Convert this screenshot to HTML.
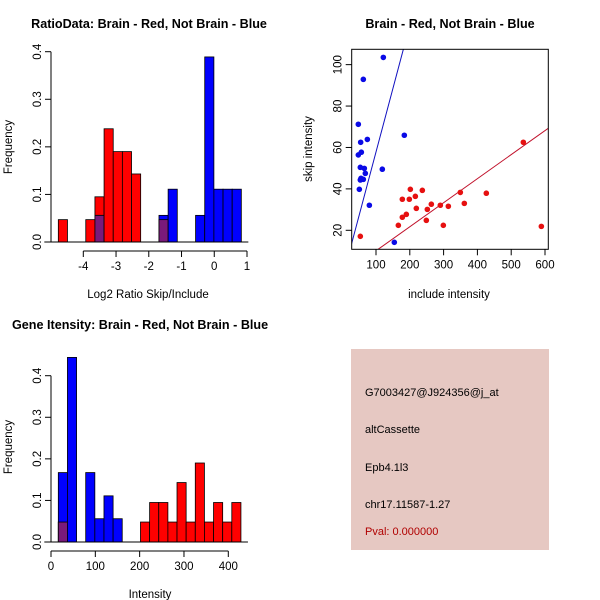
<!DOCTYPE html>
<html><head><meta charset="utf-8"><style>
html,body{margin:0;padding:0;background:#fff}
svg{display:block;font-family:"Liberation Sans",sans-serif}
</style></head><body>
<svg id="s" width="600" height="600" viewBox="0 0 600 600">
<rect width="600" height="600" fill="#fff"/>
<g id="p1"></g>
<g id="p2"></g>
<g id="p3"></g>
<g>
<rect x="351" y="349" width="198" height="201" fill="#e6c8c2"/>
<g font-size="11" fill="#000">
<text x="365" y="396">G7003427@J924356@j_at</text>
<text x="365" y="433">altCassette</text>
<text x="365" y="471">Epb4.1l3</text>
<text x="365" y="508">chr17.11587-1.27</text>
<text x="365" y="535" fill="#b00000">Pval: 0.000000</text>
</g></g>
</svg>
<script>
// ---- Plot 1 data ----
const ratioBinStart = -4.763, ratioBinWidth = 0.2795;
const ratioRed  = [0.047,0,0,0.047,0.095,0.238,0.19,0.19,0.143,0,0,0.047,0,0,0,0,0,0,0,0];
const ratioBlue = [0,0,0,0,0.056,0,0,0,0,0,0,0.056,0.111,0,0,0.056,0.389,0.111,0.111,0.111];
const ratioXTicks = [-4,-3,-2,-1,0,1];
const ratioYTicks = [0,0.1,0.2,0.3,0.4];
// ---- Plot 2 data ----
const blueX = [121.7,62.5,47.7,183.8,74.4,54.6,47.7,56.6,53.6,65.5,68.4,55.6,62.5,53.6,50.7,118.7,80.3,154.2];
const blueY = [103.5,92.9,71.2,65.9,63.9,62.5,56.4,57.7,50.4,49.9,47.5,45.1,44.6,44.3,39.8,49.5,32.1,14.2];
const redX = [53.6,166.1,177.9,177.9,189.7,198.6,201.6,216.4,219.3,237.1,248.9,251.9,263.7,290.3,299.2,314.0,349.5,361.3,426.4,535.9,589.2];
const redY = [17.1,22.4,26.3,35.0,27.7,35.0,39.8,36.4,30.6,39.3,24.8,30.1,32.6,32.1,22.4,31.6,38.3,33.0,37.9,62.5,21.9];
const blueFit = [-3.5,0.613];
const redFit = [-1.5,0.1161];
const scatXTicks = [100,200,300,400,500,600];
const scatYTicks = [20,40,60,80,100];
// ---- Plot 3 data ----
const intBinStart = 16.5, intBinWidth = 20.6;
const intBlue = [0.167,0.444,0,0.167,0.056,0.111,0.056,0,0,0,0,0,0,0,0,0,0,0,0,0];
const intRed  = [0.048,0,0,0,0,0,0,0,0,0.048,0.095,0.095,0.048,0.143,0.048,0.19,0.048,0.095,0.048,0.095];
const intXTicks = [0,100,200,300,400];
const intYTicks = [0,0.1,0.2,0.3,0.4];

const NS="http://www.w3.org/2000/svg";
function mk(parent,tag,attrs){const e=document.createElementNS(NS,tag);for(const k in attrs)e.setAttribute(k,attrs[k]);parent.appendChild(e);return e;}
function txt(parent,x,y,s,attrs){const e=mk(parent,'text',Object.assign({x:x,y:y,'font-size':11.5,'text-anchor':'middle'},attrs||{}));e.textContent=s;return e;}
const PURPLE='#7a1a7a';

function hist(g,xs,ys,start,w,red,blue,xt,yt,xl,yl,xlab,ylab,xfmt,title,titleX,titleY,titleAnchor){
  const X=v=>xs[0]+(v-xl[0])*(xs[1]-xs[0])/(xl[1]-xl[0]);
  const Y=v=>ys[0]+(v-yl[0])*(ys[1]-ys[0])/(yl[1]-yl[0]);
  const t=txt(g,titleX,titleY,title,{'font-size':12.6,'font-weight':'bold','text-anchor':titleAnchor});
  
  for(let i=0;i<red.length;i++){
    const x0=X(start+i*w),x1=X(start+(i+1)*w);
    const r=red[i],b=blue[i];
    if(r>0){const e=mk(g,'rect',{x:x0,y:Y(r),width:x1-x0,height:Y(0)-Y(r),fill:'#ff0000',stroke:'#000','stroke-width':0.8});
      }
    if(b>0){const e=mk(g,'rect',{x:x0,y:Y(b),width:x1-x0,height:Y(0)-Y(b),fill:'#0000ff',stroke:'#000','stroke-width':0.8});
      }
    if(r>0&&b>0){const m=Math.min(r,b);const e=mk(g,'rect',{x:x0,y:Y(m),width:x1-x0,height:Y(0)-Y(m),fill:PURPLE,stroke:'#000','stroke-width':0.8});
      }
  }
  const base=mk(g,'line',{x1:X(start)-14,x2:X(start+red.length*w)+7,y1:Y(0),y2:Y(0),stroke:'#000'});
  
  const yax=mk(g,'g',{});
  
  const yx=ys.axisX;
  mk(yax,'line',{x1:yx,x2:yx,y1:Y(yt[0]),y2:Y(yt[yt.length-1]),stroke:'#000'});
  yt.forEach(v=>{mk(yax,'line',{x1:yx-6,x2:yx,y1:Y(v),y2:Y(v),stroke:'#000'});
    const tt=txt(yax,0,0,v.toFixed(1),{transform:`translate(${yx-10},${Y(v)}) rotate(-90)`});});
  const xax=mk(g,'g',{});
  
  const xy=xs.axisY;
  mk(xax,'line',{x1:X(xt[0]),x2:X(xt[xt.length-1]),y1:xy,y2:xy,stroke:'#000'});
  xt.forEach(v=>{mk(xax,'line',{x1:X(v),x2:X(v),y1:xy,y2:xy+6,stroke:'#000'});
    const tt=txt(xax,X(v),xy+19,xfmt(v));});
  const xl2=txt(g,xs.labX,xs.labY,xlab);
  const yl2=txt(g,0,0,ylab,{transform:`translate(${ys.labX},${ys.labY}) rotate(-90)`});
}
// Plot 1
{const xs=[83.3,247];xs.axisY=251;xs.labX=148;xs.labY=298;
 const ys=[242,51.7];ys.axisX=51;ys.labX=12;ys.labY=147;
 hist(document.getElementById('p1'),xs,ys,ratioBinStart,ratioBinWidth,ratioRed,ratioBlue,ratioXTicks,ratioYTicks,[-4,1],[0,0.4],'Log2 Ratio Skip/Include','Frequency',v=>String(v),'RatioData: Brain - Red, Not Brain - Blue',149,28,'middle');}
// Plot 3
{const xs=[51,228.3];xs.axisY=551;xs.labX=150;xs.labY=598;
 const ys=[542,375.7];ys.axisX=51;ys.labX=12;ys.labY=447;
 hist(document.getElementById('p3'),xs,ys,intBinStart,intBinWidth,intRed,intBlue,intXTicks,intYTicks,[0,400],[0,0.4],'Intensity','Frequency',v=>String(v),'Gene Itensity: Brain - Red, Not Brain - Blue',12,329,'start');}
// Plot 2
{const g=document.getElementById('p2');
 const X=v=>376+(v-100)*0.338, Y=v=>230.3-(v-20)*2.0708;
 const L=351.7,R=548.3,T=49.3,B=249.3;
 const t=txt(g,450,28,'Brain - Red, Not Brain - Blue',{'font-size':12.6,'font-weight':'bold'});
 
 const cp=mk(g,'clipPath',{id:'cp2'});mk(cp,'rect',{x:L,y:T,width:R-L,height:B-T});
 const clip=mk(g,'g',{'clip-path':'url(#cp2)'});
 const xb=700;
 const lb=mk(clip,'line',{x1:X(0),y1:Y(blueFit[0]),x2:X(xb),y2:Y(blueFit[0]+blueFit[1]*xb),stroke:'#1010c0'});
 
 const lr=mk(clip,'line',{x1:X(0),y1:Y(redFit[0]),x2:X(xb),y2:Y(redFit[0]+redFit[1]*xb),stroke:'#c0102a'});
 
 blueX.forEach((v,i)=>{const c=mk(g,'circle',{cx:X(v),cy:Y(blueY[i]),r:2.8,fill:'#0a0ae6'});
   });
 redX.forEach((v,i)=>{const c=mk(g,'circle',{cx:X(v),cy:Y(redY[i]),r:2.8,fill:'#e61010'});
   });
 const box=mk(g,'rect',{x:L,y:T,width:R-L,height:B-T,fill:'none',stroke:'#000'});
 
 const xax=mk(g,'g',{});
 scatXTicks.forEach(v=>{mk(xax,'line',{x1:X(v),x2:X(v),y1:B,y2:B+6,stroke:'#000'});
   const tt=txt(xax,X(v),B+19,String(v));});
 const yax=mk(g,'g',{});
 scatYTicks.forEach(v=>{mk(yax,'line',{x1:L-6,x2:L,y1:Y(v),y2:Y(v),stroke:'#000'});
   const tt=txt(yax,0,0,String(v),{transform:`translate(${L-10},${Y(v)}) rotate(-90)`});});
 const xl=txt(g,449,298,'include intensity');
 const yl=txt(g,0,0,'skip intensity',{transform:'translate(312,149) rotate(-90)'});
}
</script>
</body></html>
